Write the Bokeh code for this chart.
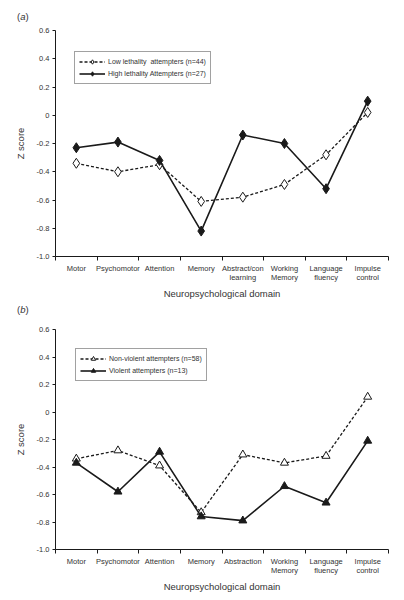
from bokeh.plotting import figure
from bokeh.models import Range1d, FixedTicker, Legend, LegendItem, Div
from bokeh.layouts import column
from bokeh.embed import file_html
from bokeh.resources import INLINE

# ---- data ----
domains_a = ["Motor", "Psychomotor", "Attention", "Memory", "Abstract/con\nlearning",
             "Working\nMemory", "Language\nfluency", "Impulse\ncontrol"]
domains_b = ["Motor", "Psychomotor", "Attention", "Memory", "Abstraction",
             "Working\nMemory", "Language\nfluency", "Impulse\ncontrol"]
low_lethality = [-0.34, -0.40, -0.35, -0.61, -0.58, -0.49, -0.28, 0.02]
high_lethality = [-0.23, -0.19, -0.32, -0.82, -0.14, -0.20, -0.52, 0.10]
non_violent = [-0.34, -0.28, -0.39, -0.73, -0.31, -0.37, -0.32, 0.11]
violent = [-0.37, -0.58, -0.29, -0.76, -0.79, -0.54, -0.66, -0.21]
y_ticks = [-1.0, -0.8, -0.6, -0.4, -0.2, 0.0, 0.2, 0.4, 0.6]
y_tick_labels = ["-1.0", "-0.8", "-0.6", "-0.4", "-0.2", "0", "0.2", "0.4", "0.6"]

FONT = "Liberation Sans"
TXT = "#333333"
INK = "#1a1a1a"


def letter_div(letter, h, pad_top):
    return Div(text="(<i>" + letter + "</i>)", width=404, height=h, margin=0,
               styles={"font-family": FONT, "font-size": "9.5px", "color": TXT,
                       "line-height": "11px", "padding-left": "17px",
                       "padding-top": str(pad_top) + "px", "box-sizing": "border-box"})


def panel(domains, s_open, s_filled, lab_open, lab_filled, marker, msize,
          height, fw, bl, bt, bb, br, leg_loc):
    n = len(domains)
    xs = [i + 0.5 for i in range(n)]
    p = figure(width=bl + fw + br, height=height, output_backend="svg",
               toolbar_location=None, x_range=Range1d(0, n),
               y_range=Range1d(y_ticks[0], y_ticks[-1]),
               min_border_left=bl, min_border_top=bt, min_border_bottom=bb,
               min_border_right=br, margin=0)
    p.outline_line_color = None
    p.xgrid.visible = False
    p.ygrid.visible = False

    r1 = p.line(xs, s_open, line_color=INK, line_width=1.3, line_dash="3 2")
    r2 = p.scatter(xs, s_open, marker=marker, size=msize, fill_color="white",
                   line_color=INK, line_width=1)
    r3 = p.line(xs, s_filled, line_color=INK, line_width=1.6)
    r4 = p.scatter(xs, s_filled, marker=marker, size=msize, fill_color=INK,
                   line_color=INK, line_width=1)

    leg = Legend(items=[LegendItem(label=lab_open, renderers=[r1, r2]),
                        LegendItem(label=lab_filled, renderers=[r3, r4])],
                 location=leg_loc)
    leg.label_text_font = FONT
    leg.label_text_font_size = "7px"
    leg.label_text_color = TXT
    leg.glyph_width = 26
    leg.glyph_height = 11
    leg.label_height = 11
    leg.label_standoff = 3
    leg.spacing = 1
    leg.padding = 4
    leg.margin = 0
    leg.border_line_color = "#444444"
    leg.border_line_width = 1
    p.add_layout(leg)

    xa = p.xaxis[0]
    xa.ticker = FixedTicker(ticks=xs, minor_ticks=list(range(n + 1)))
    xa.major_label_overrides = {x: d for x, d in zip(xs, domains)}
    xa.major_tick_in = 0
    xa.major_tick_out = 0
    xa.minor_tick_in = 0
    xa.minor_tick_out = 4
    xa.minor_tick_line_color = INK
    xa.axis_line_color = INK
    xa.major_label_standoff = 3
    xa.major_label_text_font = FONT
    xa.major_label_text_font_size = "7.5px"
    xa.major_label_text_line_height = 1.0
    xa.major_label_text_color = TXT
    xa.axis_label = "Neuropsychological domain"
    xa.axis_label_text_font = FONT
    xa.axis_label_text_font_size = "9.5px"
    xa.axis_label_text_font_style = "normal"
    xa.axis_label_text_color = TXT
    xa.axis_label_standoff = 3

    ya = p.yaxis[0]
    ya.ticker = FixedTicker(ticks=y_ticks)
    ya.major_label_overrides = {t: l for t, l in zip(y_ticks, y_tick_labels)}
    ya.major_tick_in = 0
    ya.major_tick_out = 3
    ya.minor_tick_line_color = None
    ya.axis_line_color = INK
    ya.major_tick_line_color = INK
    ya.major_label_standoff = 3
    ya.major_label_text_font = FONT
    ya.major_label_text_font_size = "7.5px"
    ya.major_label_text_color = TXT
    ya.axis_label = "Z score"
    ya.axis_label_text_font = FONT
    ya.axis_label_text_font_size = "9.5px"
    ya.axis_label_text_font_style = "normal"
    ya.axis_label_text_color = TXT
    ya.axis_label_standoff = 8
    return p


div_a = letter_div("a", 22, 11)
pa = panel(domains_a, low_lethality, high_lethality,
           "Low lethality  attempters (n=44)", "High lethality Attempters (n=27)",
           "diamond", 10, 282, 341, 55, 8, 48, 8, (19, 172))
div_b = letter_div("b", 20, 0)
pb = panel(domains_b, non_violent, violent,
           "Non-violent attempters (n=58)", "Violent attempters (n=13)",
           "triangle", 8, 276, 334, 54, 5, 51, 16, (20, 168))

layout = column(div_a, pa, div_b, pb, spacing=0)
open("out.html", "w").write(file_html(layout, INLINE))
